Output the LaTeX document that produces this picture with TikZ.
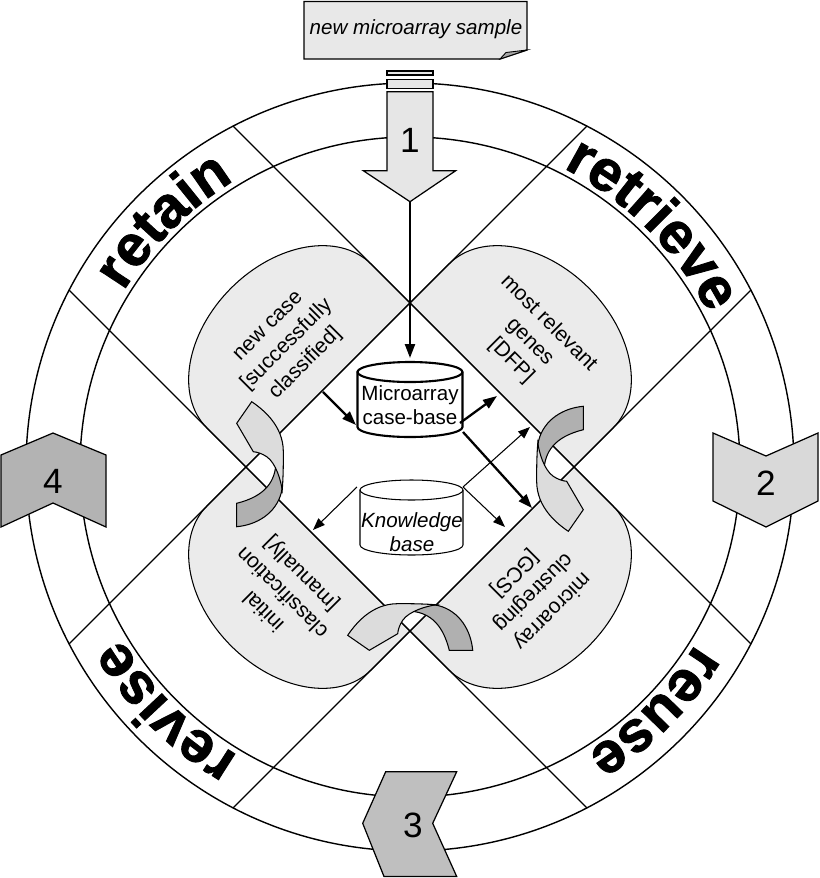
\documentclass[tikz,border=0pt]{standalone}
\usepackage{fontspec}
\setmainfont{Liberation Sans}
\newfontfamily\ringfont{Liberation Sans}[BoldFeatures={FakeBold=1.5}]
\usepackage{tikz}
\usetikzlibrary{arrows.meta,decorations.text}
\definecolor{lobegray}{RGB}{235,235,235}
\definecolor{notegray}{RGB}{232,232,232}
\definecolor{onegray}{RGB}{230,230,230}
\definecolor{twogray}{RGB}{217,217,217}
\definecolor{threegray}{RGB}{191,191,191}
\definecolor{fourgray}{RGB}{179,179,179}
\definecolor{backgray}{RGB}{176,176,176}
\definecolor{frontgray}{RGB}{220,220,220}
\newcommand{\ringtype}{\ringfont\bfseries\fontsize{33}{36}\selectfont}

\begin{document}
\begin{tikzpicture}[scale=0.2,
  lobe/.style={fill=lobegray, draw=black, line width=0.6pt},
  lobetext/.style={align=center, font=\fontsize{12}{15}\selectfont},
  badge/.style={draw=black, line width=0.7pt},
  numtext/.style={font=\fontsize{20}{24}\selectfont},
  ringtext/.style={decorate, decoration={text along path, text align=center, text={|\ringtype|#1}}},
  cyltext/.style={align=center, font=\fontsize{11.7}{13.7}\selectfont},
  ribbon/.style={draw=black, line width=0.6pt},
  thickarrow/.style={line width=1.3pt, -{Triangle[length=2.8mm,width=2mm]}},
  thinarrow/.style={line width=0.6pt, -{Triangle[length=2.4mm,width=1.8mm]}}]
\useasboundingbox (0,0) rectangle (82,-87.8);
\fill[white] (0,0) rectangle (82,-87.8);

% ring
\coordinate (C) at (41,-46.7);
\draw[line width=0.8pt] (C) circle (38.4);
\draw[line width=0.8pt] (C) circle (33);

% lobes, chords and ring words
\begin{scope}[shift={(41,-46.7)}]
\foreach \a in {45,135,225,315}
  \filldraw[lobe, rotate=\a] (11.6,-11.6) -- (17.1,-11.6) arc (-90:90:8.2 and 11.6) -- (11.6,11.6) -- cycle;
\foreach \a in {45,135,225,315}
  \draw[line width=0.7pt, rotate=\a] (11.6,-36.6) -- (11.6,36.6);
\path[ringtext=retain] (160:33.6) arc (160:110:33.6);
\path[ringtext=retrieve] (70:33.6) arc (70:20:33.6);
\path[ringtext=reuse] (-20:33.6) arc (-20:-70:33.6);
\path[ringtext=revise] (-110:33.6) arc (-110:-160:33.6);
\end{scope}

% step badges
\filldraw[badge, fill=twogray] (71.3,-43.3) -- (76.6,-45.6) -- (81.8,-43.3) -- (81.8,-50.1) -- (76.6,-52.7) -- (71.3,-50.1) -- cycle;
\node[numtext] (two) at (76.6,-48.3) {2};
\filldraw[badge, fill=fourgray] (0.1,-45.5) -- (5.3,-43.3) -- (10.6,-45.5) -- (10.6,-52.7) -- (5.3,-50.3) -- (0.1,-52.7) -- cycle;
\node[numtext] (four) at (5.3,-48.1) {4};
\filldraw[badge, fill=threegray] (38.57,-77.17) -- (45.67,-77.17) -- (43.27,-82.33) -- (45.67,-87.65) -- (38.4,-87.65) -- (36.27,-82.33) -- cycle;
\node[numtext] (three) at (41.3,-82.5) {3};
\filldraw[badge, fill=onegray] (38.7,-7.1) rectangle (43.3,-7.5);
\filldraw[badge, fill=onegray] (38.7,-7.93) rectangle (43.3,-8.83);
\filldraw[badge, fill=onegray] (38.7,-9.17) -- (43.3,-9.17) -- (43.3,-17.07) -- (45.57,-17.07) -- (41,-20.17) -- (36.33,-17.07) -- (38.7,-17.07) -- cycle;
\node[numtext] (one) at (41,-14) {1};
\coordinate (tip1) at (41,-20.17);

% new sample note
\filldraw[fill=notegray, line width=0.8pt] (30.4,-0.15) -- (52.7,-0.15) -- (52.7,-5.0) -- (50,-5.9) -- (30.4,-5.9) -- cycle;
\filldraw[fill=gray!70, line width=0.5pt] (50,-5.9) -- (50.6,-5.25) -- (52.7,-5.0) -- cycle;
\node[font=\fontsize{11.7}{14}\selectfont\itshape] (sample) at (41.6,-2.9) {new microarray sample};

% case-base cylinder
\filldraw[fill=white, line width=1.2pt] (35.75,-37.2) -- (35.75,-42.7) arc (180:360:5.25 and 1) -- (46.25,-37.2) arc (0:180:5.25 and 1) -- cycle;
\draw[line width=1.2pt] (35.75,-37.2) arc (180:360:5.25 and 1);
\node[cyltext] (mcb) at (41,-40.5) {Microarray\\case-base};

% knowledge cylinder
\filldraw[fill=white, line width=0.6pt] (36,-49) -- (36,-54.5) arc (180:360:5.15 and 1) -- (46.3,-49) arc (0:180:5.15 and 1) -- cycle;
\draw[line width=0.6pt] (36,-49) arc (180:360:5.15 and 1);
\node[cyltext, font=\fontsize{11.7}{13.7}\selectfont\itshape] (kb) at (41.2,-53.2) {Knowledge\\base};

% lobe texts
\node[lobetext, rotate=45] (newcase) at (28.8,-34.6) {new case\\{}[successfully\\classified]};
\node[lobetext, rotate=-45] (genes) at (53,-34.2) {most relevant\\genes\\{}[DFP]};
\node[lobetext, rotate=135] (initclass) at (28.3,-59.2) {initial\\classification\\{}[manually]};
\node[lobetext, rotate=225] (clustering) at (53.3,-59.2) {microarray\\clustreging\\{}[GCS]};

% connectors
\coordinate (mcbtop) at (41,-35.8);
\coordinate (fromnew) at (32.3,-39.2);
\coordinate (mcbwest) at (35.6,-42.5);
\coordinate (mcbeast) at (46,-42.3);
\coordinate (togenes) at (49.7,-39.6);
\coordinate (mcbse) at (46.3,-43.2);
\coordinate (toclust) at (53.2,-50.8);
\coordinate (kbwest) at (35.7,-48.7);
\coordinate (toinit) at (31.3,-53);
\coordinate (kbeast) at (46.3,-48.7);
\coordinate (kbclust) at (50.5,-52.7);
\coordinate (kbgenes) at (53,-42.7);
\draw[thickarrow] (tip1) -- (mcbtop);
\draw[thickarrow] (fromnew) -- (mcbwest);
\draw[thickarrow] (mcbeast) -- (togenes);
\draw[thickarrow] (mcbse) -- (toclust);
\draw[thinarrow] (kbwest) -- (toinit);
\draw[thinarrow] (kbeast) -- (kbclust);
\draw[thinarrow] (kbeast) -- (kbgenes);

% turning arrows
\foreach \px/\py/\r in {24.6/-46.6/0, 57.4/-46.7/180, 41.2/-64.1/90} {
  \begin{scope}[shift={(\px,\py)}, rotate=\r]
    \filldraw[ribbon, fill=backgray] (-0.93,-6.07) .. controls (1,-5.9) and (3,-4.8) .. (3.55,-2.6) .. controls (3.7,-1.8) and (3.7,-0.5) .. (3.4,0.3) -- (3,0.3) .. controls (2.9,-1.5) and (2,-3) .. (-0.93,-3.73) -- cycle;
    \filldraw[ribbon, fill=frontgray] (0.57,6.43) .. controls (1.8,5.6) and (3.7,4) .. (3.73,1.5) .. controls (3.75,0) and (3.7,-1.5) .. (3.62,-2.4) .. controls (3.5,-1.5) and (3,0.3) .. (2.07,0.93) .. controls (1.6,1.25) and (1.1,1.4) .. (0.73,1.43) -- (-0.93,4.27) -- cycle;
  \end{scope}
}
\end{tikzpicture}
\end{document}
